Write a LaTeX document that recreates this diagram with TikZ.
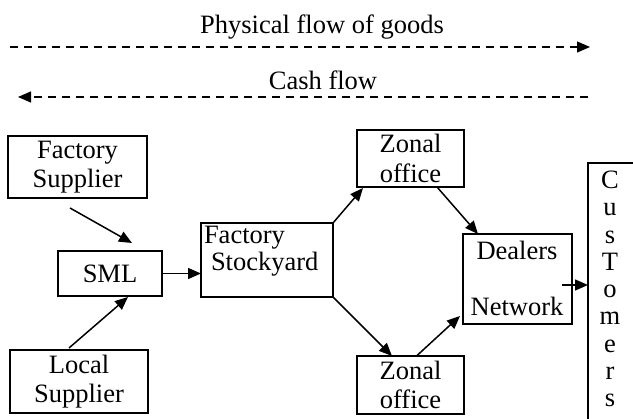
\documentclass[tikz,border=0pt]{standalone}
\usepackage{fontspec}
\setmainfont{Liberation Serif}
\usetikzlibrary{arrows.meta,calc}
\tikzset{
  box/.style={draw, line width=1.2pt, inner sep=0pt, outer sep=0pt, align=center},
  txt/.style={inner sep=0pt, outer sep=0pt, align=center},
  arr/.style={line width=1.5pt, -{Triangle[length=13pt,width=11pt]}},
  flow/.style={line width=1.3pt, dash pattern=on 8pt off 6pt, -{Triangle[length=13pt,width=11pt]}}
}
\begin{document}
\begin{tikzpicture}[x=1pt,y=-1pt,font=\fontsize{26.5}{29.5}\selectfont]
\useasboundingbox (0,0) rectangle (633,419);
% flow legend
\node[txt] (phys) at (322,27) {Physical flow of goods};
\coordinate (p1) at (10,47);
\coordinate (p2) at (590,47);
\draw[flow] (p1) -- (p2);
\node[txt] (cash) at (323,80) {Cash flow};
\coordinate (c1) at (588,97);
\coordinate (c2) at (18,97);
\draw[flow] (c1) -- (c2);
% boxes
\node[box, minimum width=139pt, minimum height=62pt] (fs) at (77.5,167) {Factory\\Supplier};
\node[box, minimum width=104pt, minimum height=45pt] (sml) at (110,273.5) {SML};
\node[box, minimum width=138pt, minimum height=63pt] (ls) at (79,381.5) {Local\\Supplier};
\node[box, minimum width=132pt, minimum height=74pt] (sy) at (267,260) {};
\node[txt, anchor=mid west] (syt1) at (204,241) {Factory};
\node[txt, anchor=mid west] (syt2) at (211,268) {Stockyard};
\node[box, minimum width=107pt, minimum height=57pt] (zt) at (410.5,158.5) {Zonal\\office};
\node[box, minimum width=107pt, minimum height=58pt] (zb) at (410.5,385) {Zonal\\office};
\node[box, minimum width=109pt, minimum height=90pt] (dn) at (517.5,279) {};
\node[txt] (dnt1) at (517,250) {Dealers};
\node[txt] (dnt2) at (517,306) {Network};
\node[txt, minimum width=50pt, minimum height=270pt, anchor=north west] (cust) at (588,163) {};
\draw[line width=1.2pt] (cust.south west) -- (cust.north west) -- (cust.north east);
\node[txt, font=\fontsize{26.5}{27.3}\selectfont] (custt) at (610,289) {C\\u\\s\\T\\o\\m\\e\\r\\s};
% connectors
\draw[arr] ($(fs.south)+(-7.5,10)$) -- ($(sml.north)+(22,-8)$);
\draw[arr] ($(ls.north)+(-10,-2)$) -- ($(sml.south)+(18,1)$);
\draw[arr] (sml.east) -- (sml.east -| sy.west);
\draw[arr] (sy.north east) -- ($(zt.south west)+(6,1)$);
\draw[arr] ($(zt.south)+(26.5,0)$) -- ($(dn.north west)+(15,0)$);
\draw[arr] (sy.south east) -- ($(zb.north west)+(35,0)$);
\draw[arr] ($(zb.north)+(6,0)$) -- ($(dn.south west)+(-3,-8)$);
\coordinate (dnout) at ($(dn.east)+(-10,6)$);
\draw[arr] (dnout) -- (dnout -| cust.west);
\end{tikzpicture}
\end{document}
